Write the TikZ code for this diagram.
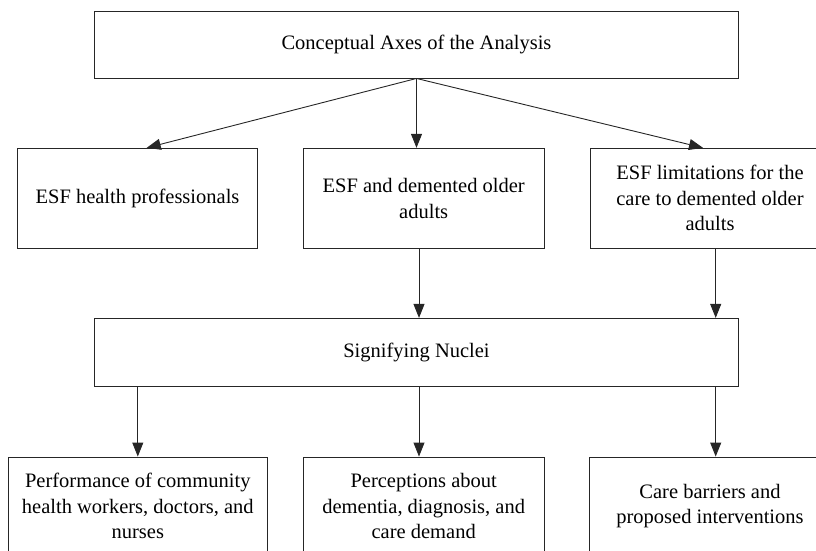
\documentclass[tikz,border=0pt]{standalone}
\usepackage{fontspec}
\setmainfont{Liberation Serif}
\usepackage{tikz}
\usetikzlibrary{arrows.meta,calc}
\definecolor{axisLine}{HTML}{262626}

\tikzset{
  axbox/.style={draw=axisLine,line width=0.9pt,align=center,inner sep=0pt},
  axarrow/.style={draw=axisLine,line width=0.9pt,-{Triangle[length=14pt,width=11pt]}}
}

\begin{document}
\begin{tikzpicture}[x=1pt,y=-1pt,font=\fontsize{20.5}{25.5}\selectfont]
  \useasboundingbox (0,0) rectangle (816,551);
  % axes
  \node[axbox,minimum width=644.4pt,minimum height=67pt] (axes) at (416.5,44.5)
    {Conceptual Axes of the Analysis};
  \node[axbox,minimum width=240.4pt,minimum height=100pt] (esfhp) at (137.5,198.3)
    {ESF health professionals};
  \node[axbox,minimum width=240.7pt,minimum height=100pt] (esfdem) at (423.7,198.3)
    {ESF and demented older\\adults};
  \node[axbox,minimum width=240pt,minimum height=100pt] (esflim) at (710,198.3)
    {ESF limitations for the\\care to demented older\\adults};
  % nuclei
  \node[axbox,minimum width=644.4pt,minimum height=67.7pt] (nuclei) at (416.5,352.2)
    {Signifying Nuclei};
  \node[axbox,minimum width=259pt,minimum height=98pt] (perf) at (137.8,506)
    {Performance of community\\health workers, doctors, and\\nurses};
  \node[axbox,minimum width=240.7pt,minimum height=98pt] (perc) at (423.7,506)
    {Perceptions about\\dementia, diagnosis, and\\care demand};
  \node[axbox,minimum width=240.6pt,minimum height=98pt] (barr) at (710,506)
    {Care barriers and\\proposed interventions};

  \draw[axarrow] (axes.south) -- ([xshift=9.2pt]esfhp.north);
  \draw[axarrow] (axes.south) -- (axes.south |- esfdem.north);
  \draw[axarrow] (axes.south) -- ([xshift=-7pt]esflim.north);
  \draw[axarrow] ([xshift=-4.7pt]esfdem.south) -- ([xshift=-4.7pt]esfdem.south |- nuclei.north);
  \draw[axarrow] ([xshift=5.7pt]esflim.south) -- ([xshift=5.7pt]esflim.south |- nuclei.north);
  \draw[axarrow] (perf.north |- nuclei.south) -- (perf.north);
  \draw[axarrow] ([xshift=-4.7pt]perc.north |- nuclei.south) -- ([xshift=-4.7pt]perc.north);
  \draw[axarrow] ([xshift=5.7pt]barr.north |- nuclei.south) -- ([xshift=5.7pt]barr.north);
\end{tikzpicture}
\end{document}
